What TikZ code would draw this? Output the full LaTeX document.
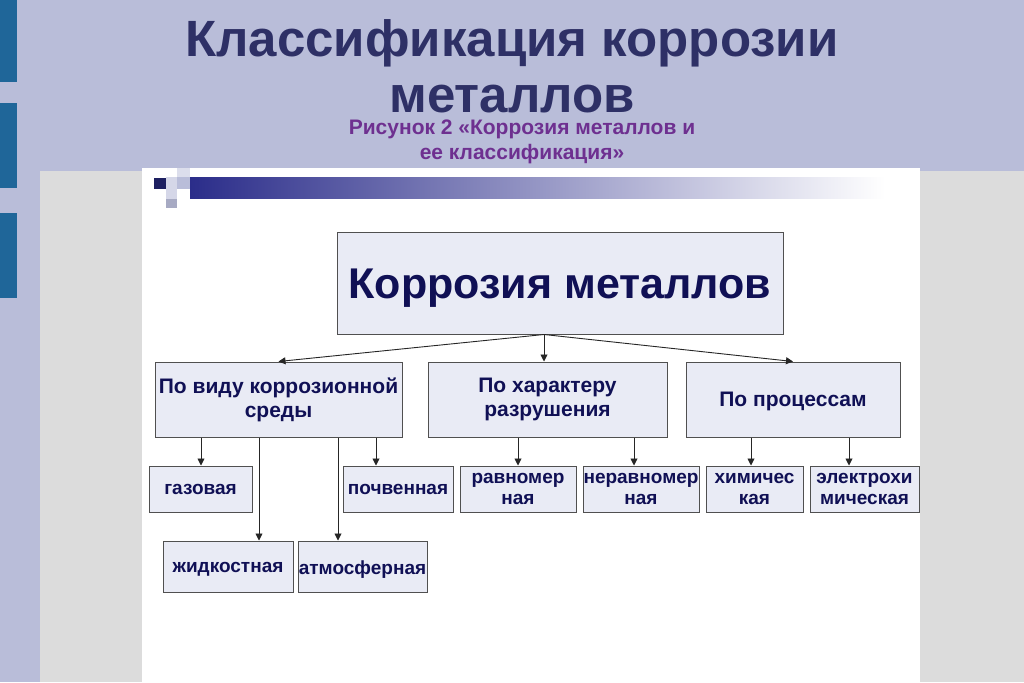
\documentclass[tikz,border=0pt]{standalone}
\usepackage{fontspec}
\setmainfont{Liberation Sans}
\usetikzlibrary{arrows.meta}
\definecolor{bglav}{HTML}{B9BDD9}
\definecolor{barblue}{HTML}{1F6699}
\definecolor{panelgray}{HTML}{DCDCDC}
\definecolor{gradnavy}{HTML}{2B2D8A}
\definecolor{titlenavy}{HTML}{2E3066}
\definecolor{subpurple}{HTML}{6E3090}
\definecolor{boxfill}{HTML}{E9EBF5}
\definecolor{boxline}{HTML}{505050}
\definecolor{textnavy}{HTML}{101055}
\newcommand{\lowerby}[2]{\raisebox{-#1}[\height][\depth]{#2}}
\tikzset{
  box/.style={draw=boxline, line width=1pt, fill=boxfill, text=textnavy, font=\bfseries, align=center, inner sep=0pt},
  mainbox/.style={box, minimum width=446pt, minimum height=102pt, font=\fontsize{43}{48}\selectfont\bfseries},
  catbox/.style={box, minimum height=75pt, font=\fontsize{21}{24}\selectfont\bfseries},
  leafbox/.style={box, minimum height=46pt, font=\fontsize{19}{21}\selectfont\bfseries},
  lowbox/.style={box, minimum height=51pt, font=\fontsize{19}{21}\selectfont\bfseries},
  titletext/.style={text=titlenavy, font=\fontsize{51}{60}\selectfont\bfseries, anchor=base, inner sep=0pt},
  subtext/.style={text=subpurple, font=\fontsize{21}{25}\selectfont\bfseries, anchor=base, inner sep=0pt},
  arr/.style={draw=black!85, line width=0.9pt, -{Triangle[length=7pt,width=7pt]}},
}
\begin{document}
\begin{tikzpicture}[x=1pt,y=-1pt]
\useasboundingbox (0,0) rectangle (1024,682);
% background
\fill[bglav] (0,0) rectangle (1024,682);
\fill[barblue] (0,0) rectangle (17,82);
\fill[barblue] (0,103) rectangle (17,188);
\fill[barblue] (0,213) rectangle (17,298);
\fill[panelgray] (40,171) rectangle (1024,682);
\fill[white] (142,168) rectangle (920,682);
% decorative header strip
\shade[left color=gradnavy, right color=white] (190,177) rectangle (885,198);
\fill[gradnavy!70!black] (154,178) rectangle (166,189);
\fill[bglav!60!white] (166,177) rectangle (177,189);
\fill[bglav] (177,177) rectangle (190,189);
\fill[bglav!50!white] (177,168) rectangle (190,177);
\fill[bglav!60!white] (166,189) rectangle (177,199);
\fill[bglav!90!black] (166,199) rectangle (177,208);
% titles
\node[titletext] (title1) at (512,57) {Классификация коррозии};
\node[titletext] (title2) at (512,113) {металлов};
\node[subtext] (sub1) at (522,134) {Рисунок 2 «Коррозия металлов и};
\node[subtext] (sub2) at (522,159) {ее классификация»};
% boxes
\node[mainbox] (main) at (560,283) {\lowerby{5pt}{Коррозия металлов}};
\node[catbox, minimum width=247pt] (A) at (278.5,399.5) {По виду коррозионной\\среды};
\node[catbox, minimum width=239pt] (B) at (547.5,399.5) {По характеру\\разрушения};
\node[catbox, minimum width=214pt] (C) at (793,399.5) {\lowerby{2pt}{По процессам}};
\node[leafbox, minimum width=103pt] (gas) at (200.5,489) {газовая};
\node[leafbox, minimum width=110pt] (soil) at (398,489) {почвенная};
\node[leafbox, minimum width=116pt] (even) at (518,489) {равномер\\ная};
\node[leafbox, minimum width=116pt] (uneven) at (641,489) {неравномер\\ная};
\node[leafbox, minimum width=97pt] (chem) at (754.5,489) {химичес\\кая};
\node[leafbox, minimum width=109pt] (elec) at (864.5,489) {электрохи\\мическая};
\node[lowbox, minimum width=130pt] (liq) at (228,566.5) {\lowerby{3pt}{жидкостная}};
\node[lowbox, minimum width=129pt] (atm) at (362.5,566.5) {\lowerby{3pt}{атмосферная}};
% connector x positions
\coordinate (xm) at (544,0);
\coordinate (xgas) at (201,0);
\coordinate (xliq) at (259,0);
\coordinate (xatm) at (338,0);
\coordinate (xsoil) at (376,0);
\coordinate (xeven) at (518,0);
\coordinate (xuneven) at (634,0);
\coordinate (xchem) at (751,0);
\coordinate (xelec) at (849,0);
% connectors
\draw[arr] (main.south -| xm) -- (A.north);
\draw[arr] (main.south -| xm) -- (B.north -| xm);
\draw[arr] (main.south -| xm) -- (C.north);
\draw[arr] (A.south -| xgas) -- (gas.north -| xgas);
\draw[arr] (A.south -| xliq) -- (liq.north -| xliq);
\draw[arr] (A.south -| xatm) -- (atm.north -| xatm);
\draw[arr] (A.south -| xsoil) -- (soil.north -| xsoil);
\draw[arr] (B.south -| xeven) -- (even.north -| xeven);
\draw[arr] (B.south -| xuneven) -- (uneven.north -| xuneven);
\draw[arr] (C.south -| xchem) -- (chem.north -| xchem);
\draw[arr] (C.south -| xelec) -- (elec.north -| xelec);
\end{tikzpicture}
\end{document}
